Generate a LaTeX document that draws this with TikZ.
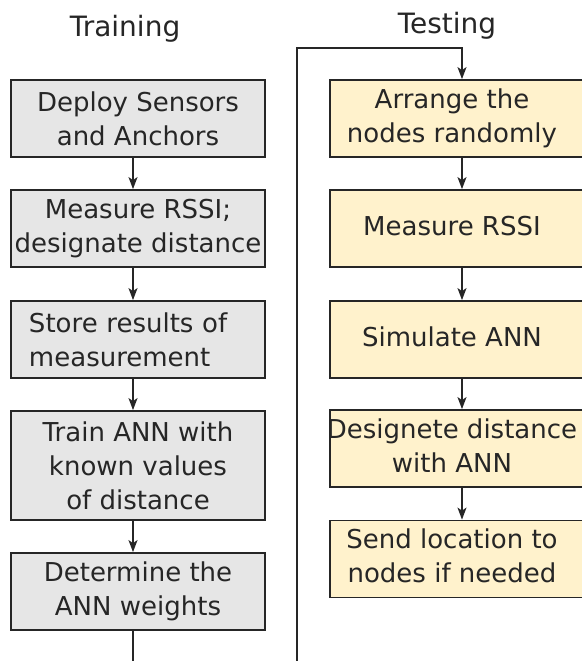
\documentclass[tikz,border=0pt]{standalone}
\usepackage{fontspec}
\setmainfont{DejaVu Sans}
\usetikzlibrary{arrows.meta}
\definecolor{trainfill}{HTML}{E6E6E6}
\definecolor{testfill}{HTML}{FFF2CC}
\definecolor{edge}{HTML}{262626}
\newcommand{\testlines}[1]{\hspace*{-10pt}\begin{tabular}{@{}c@{}}#1\end{tabular}}
\tikzset{
  stepbox/.style   = {draw=edge, line width=0.9pt, minimum height=38.5pt,
                      inner sep=0pt, text=edge, font=\fontsize{13}{17}\selectfont},
  trainbox/.style  = {stepbox, fill=trainfill, minimum width=127pt, align=center},
  testbox/.style   = {stepbox, fill=testfill, minimum width=132pt},
  title/.style     = {text=edge, font=\fontsize{14}{17}\selectfont, anchor=base},
  link/.style      = {draw=edge, line width=0.7pt, -{Stealth[length=6pt,width=4.5pt,inset=1.5pt]}},
}
\begin{document}
\begin{tikzpicture}[x=0.5pt, y=-0.5pt]
        \useasboundingbox (0,0) rectangle (582,661);
        \node[title] (traintitle) at (125,36) {Training};
        \node[title] (testtitle)  at (447,33) {Testing};
        % training column
        \node[trainbox] (train1) at (138,118.5) {Deploy Sensors\\and Anchors};
        \node[trainbox] (train2) at (138,228.5) {Measure RSSI;\\designate distance};
        \node[trainbox, text width=109pt, align=left] (train3) at (138,339.5) {Store results of\\measurement};
        \node[trainbox, minimum height=54.5pt] (train4) at (138,465.5) {Train ANN with\\known values\\of distance};
        \node[trainbox] (train5) at (138,591.5) {Determine the\\ANN weights};
        % testing column
        \node[testbox] (test1) at (462,118.5) {\testlines{Arrange the\\nodes randomly}};
        \node[testbox] (test2) at (462,228.5) {\testlines{Measure RSSI}};
        \node[testbox] (test3) at (462,339.5) {\testlines{Simulate ANN}};
        \node[testbox] (test4) at (462,448.5) {\testlines{Designete distance\\with ANN}};
        \node[testbox] (test5) at (462,559)   {\testlines{Send location to\\nodes if needed}};
        \foreach \a/\b in {train1/train2, train2/train3, train3/train4, train4/train5}
          \draw[link] ([xshift=-2.5pt]\a.south) -- ([xshift=-2.5pt]\b.north);
        \foreach \a/\b in {test1/test2, test2/test3, test3/test4, test4/test5}
          \draw[link] (\a.south) -- (\b.north);
        % from training to testing
        \coordinate (under) at (297,700);
        \coordinate (turn)  at (297,48);
        \draw[link] ([xshift=-2.5pt]train5.south) |- (under) -| (turn) -| (test1.north);
\end{tikzpicture}
\end{document}
